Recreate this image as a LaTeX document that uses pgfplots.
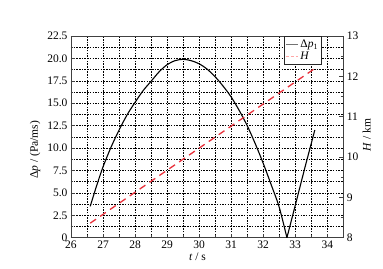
\documentclass[border=0pt]{standalone}
\usepackage{fontspec}
\setmainfont{Liberation Serif}
\usepackage{pgfplots}
\pgfplotsset{compat=1.18}
\definecolor{hred}{HTML}{E8303A}
\begin{document}
\begin{tikzpicture}[font=\fontsize{11.5}{13}\selectfont]
\useasboundingbox (-71pt,-30.3pt) rectangle (312pt,237.7pt);
\pgfplotsset{
  common/.style={
    at={(0pt,0pt)}, anchor=south west,
    scale only axis, width=272.3pt, height=201.7pt,
    xmin=26, xmax=34.5,
    tick align=inside,
    major tick length=4pt, minor tick length=2.5pt,
    axis line style={black!75, line width=0.6pt},
    every tick/.style={black!75, line width=0.5pt},
    /pgf/number format/assume math mode=true,
    tick label style={font=\fontsize{11.5}{13}\selectfont},
    label style={font=\fontsize{11.5}{13}\selectfont},
  }
}
\begin{axis}[
  common,
  ymin=0, ymax=22.5,
  xtick={26,27,28,29,30,31,32,33,34},
  ytick={0,2.5,5,7.5,10,12.5,15,17.5,20,22.5},
  yticklabels={0,2.5,5.0,7.5,10.0,12.5,15.0,17.5,20.0,22.5},
  minor x tick num=1, minor y tick num=1,
  xtick pos=bottom, ytick pos=left,
  grid=both,
  major grid style={black, line width=0.45pt, dash pattern=on 1.5pt off 1.2pt},
  minor grid style={black, line width=0.45pt, dash pattern=on 1.5pt off 1.2pt},
  xlabel={\textit{t} / s},
  xlabel style={at={(axis description cs:0.4645,-0.096)}, anchor=center},
  ylabel={Δ\textit{p} / (Pa/ms)},
  ylabel style={at={(axis description cs:-0.132,0.435)}, anchor=center},
]
\addplot[black, line width=1.1pt, smooth, tension=0.5] coordinates {
(26.60,3.5) (26.80,5.8) (27.00,7.9) (27.25,10.1) (27.50,12.0) (27.75,13.7)
(28.00,15.1) (28.25,16.4) (28.50,17.45) (28.75,18.5) (29.00,19.3) (29.25,19.75)
(29.50,19.9) (29.75,19.75) (30.00,19.4) (30.25,18.8) (30.50,17.95) (30.75,16.9)
(31.00,15.7) (31.25,14.2) (31.50,12.5) (31.75,10.5) (32.00,8.3) (32.25,5.9)
(32.50,3.4) (32.74,0)
};
\addplot[black, line width=1.1pt] coordinates {
(32.74,0) (33.00,3.6) (33.30,7.8) (33.61,12.0)
};
\end{axis}
\begin{axis}[
  common,
  axis x line=none,
  axis y line*=right,
  ymin=8, ymax=13,
  ytick={8,9,10,11,12,13},
  minor y tick num=1,
  ylabel={\textit{H} / km},
  ylabel style={at={(axis description cs:1.086,0.509)}, anchor=center},
  legend style={at={(axis description cs:0.921,1)}, anchor=north east,
    draw=black!85, fill=white, inner sep=1.5pt, row sep=-1pt,
    font=\fontsize{11.5}{13}\selectfont},
  legend cell align=left,
  legend image code/.code={\draw[#1] (0pt,0pt) -- (12pt,0pt);},
]
\addlegendimage{black!55, line width=1pt}
\addlegendentry{Δ\textit{p}\textsubscript{1}}
\addplot[hred, line width=1.3pt, dash pattern=on 7pt off 5pt, forget plot] coordinates {
(26.60,8.36) (33.62,12.2)
};
\addlegendimage{red!35, line width=1pt, dash pattern=on 3pt off 2pt}
\addlegendentry{\textit{H}}
\end{axis}
\end{tikzpicture}
\end{document}
